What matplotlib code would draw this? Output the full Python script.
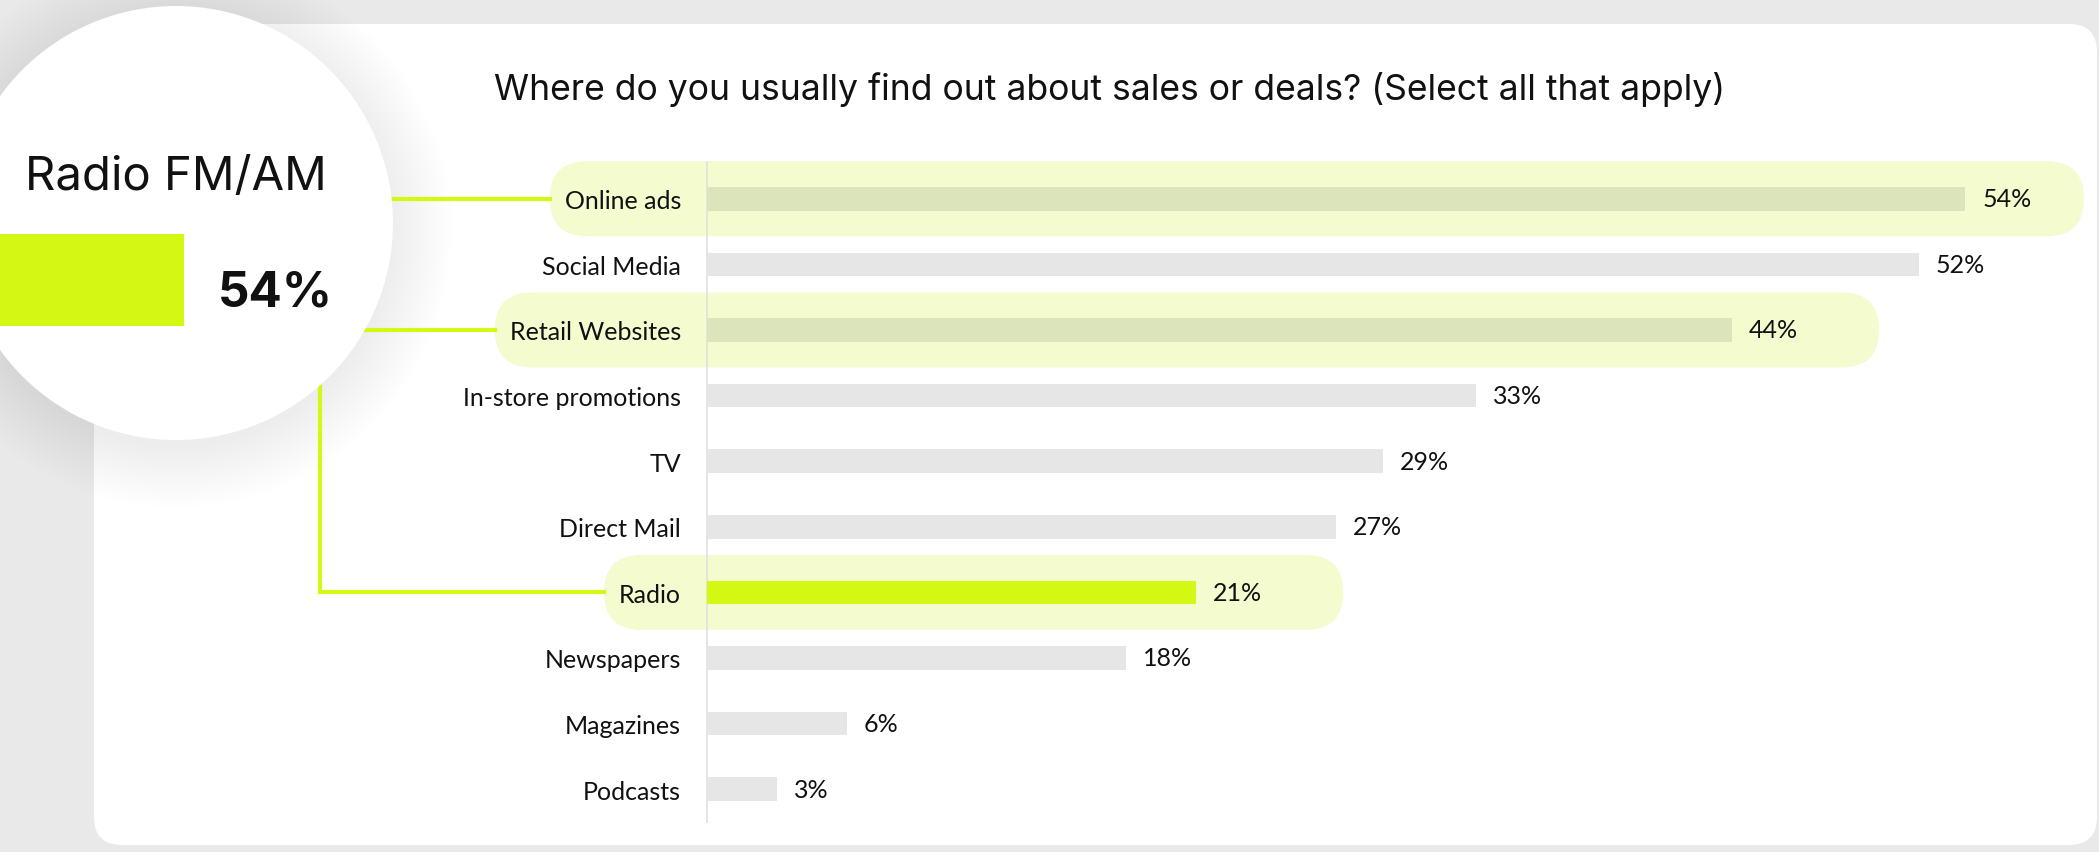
import matplotlib.pyplot as plt
import numpy as np
from matplotlib.patches import Circle, FancyBboxPatch, Rectangle

W, H = 2099, 853

categories = ["Online ads", "Social Media", "Retail Websites", "In-store promotions", "TV",
              "Direct Mail", "Radio", "Newspapers", "Magazines", "Podcasts"]
shares = [54, 52, 44, 33, 29, 27, 21, 18, 6, 3]
highlighted = ["Online ads", "Retail Websites", "Radio"]
focus = "Radio"
title = "Where do you usually find out about sales or deals? (Select all that apply)"
callout_label = "Radio FM/AM"
callout_value = "54%"

LIME = "#d4f714"
PILL = "#f3fbcf"
OLIVE = "#dce4bb"
GREY = "#e6e6e6"
INK = "#111111"
PX_PER_PCT = 23.3


def fit_width(txt, target_px, renderer):
    # scale the font so the rendered text spans target_px
    w = txt.get_window_extent(renderer).width
    txt.set_fontsize(txt.get_fontsize() * target_px / w)


fig = plt.figure(figsize=(W / 100, H / 100), dpi=100)
fig.patch.set_facecolor("#e9e9e9")

bg = fig.add_axes([0, 0, 1, 1])
bg.set_xlim(0, W)
bg.set_ylim(H, 0)
bg.axis("off")
bg.add_patch(FancyBboxPatch((94, 25), 2003, 821, boxstyle="round,pad=0,rounding_size=28",
                            fc="white", ec="none", zorder=1))

# bar panel, x=0 sits on the vertical rule
x0, top, bottom = 707, 163, 823
ax = fig.add_axes([x0 / W, (H - bottom) / H, (W - x0) / W, (bottom - top) / H])
ax.patch.set_alpha(0)
y = np.arange(len(categories))
colors = [LIME if c == focus else OLIVE if c in highlighted else GREY for c in categories]
ax.barh(y, shares, height=0.36, color=colors, zorder=3)
ax.set_xlim(0, (W - x0) / PX_PER_PCT)
ax.set_ylim(9.5, -0.56)
ax.set_yticks(y, categories, fontfamily="Lato", fontsize=18, color=INK)
ax.set_xticks([])
ax.tick_params(axis="y", length=0, pad=18.7)
for s in ["top", "right", "bottom"]:
    ax.spines[s].set_visible(False)
ax.spines["left"].set_color("#e0e0e0")
ax.spines["left"].set_linewidth(1.2)
for i, v in enumerate(shares):
    ax.annotate(f"{v}%", (v, i), xytext=(12.2, 0), textcoords="offset points",
                va="center", ha="left", fontfamily="Lato", fontsize=18, color=INK)

t = bg.text(1110, 100, title, ha="center", va="baseline", fontfamily="Inter",
            fontsize=26, color=INK, zorder=6)

# callout bubble
cx, cy, r = 176, 224, 217
for k in range(18):
    bg.add_patch(Circle((cx, cy + 8), r + 3.5 * k, fc="black", ec="none", alpha=0.005, zorder=3))
bg.add_patch(Circle((cx, cy), r, fc="white", ec="none", zorder=5))
bg.add_patch(Rectangle((0, 235), 184, 92, fc=LIME, ec="none", zorder=6))
t1 = bg.text(25, 190, callout_label, ha="left", va="baseline", fontfamily="Inter",
             fontsize=35, color=INK, zorder=6)
t2 = bg.text(218, 306, callout_value, ha="left", va="baseline", fontfamily="Inter",
             fontweight="bold", fontsize=42, color=INK, zorder=6)

fig.canvas.draw()
rend = fig.canvas.get_renderer()
fit_width(t, 1234, rend)
fit_width(t1, 302, rend)
fit_width(t2, 115, rend)

# pills behind the highlighted rows, plus connectors to the bubble
labels = {lab.get_text(): lab for lab in ax.get_yticklabels()}
for i, (c, v) in enumerate(zip(categories, shares)):
    if c not in highlighted:
        continue
    bb = labels[c].get_window_extent(rend)
    left = bb.x0 - 15
    xe, ye = ax.transData.transform((v, i))
    yc = H - ye
    right = min(xe + 147, 2084)
    bg.add_patch(FancyBboxPatch((left, yc - 37.5), right - left, 75,
                                boxstyle="round,pad=0,rounding_size=37.5",
                                fc=PILL, ec="none", zorder=2))
    if c == focus:
        bg.plot([320, 320, left], [cy, yc, yc], color=LIME, lw=3, zorder=4,
                solid_joinstyle="miter")
    else:
        bg.plot([cx, left], [yc, yc], color=LIME, lw=3, zorder=4)

fig.savefig("out.png", dpi=100, facecolor=fig.get_facecolor())
